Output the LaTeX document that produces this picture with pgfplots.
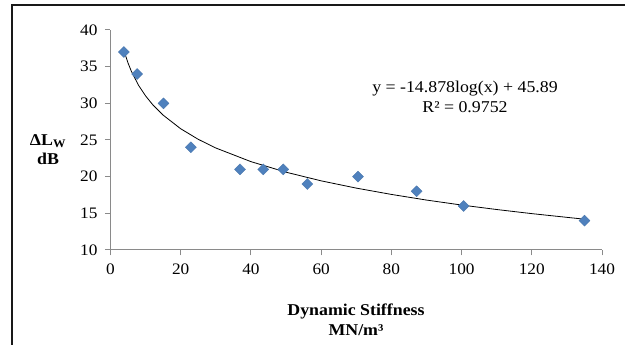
\documentclass[border=0pt]{standalone}
\usepackage{fontspec}
\setmainfont[FakeStretch=1.08]{Liberation Serif}
\usepackage{pgfplots}
\pgfplotsset{compat=1.18}
\definecolor{axisgray}{HTML}{8A8A8A}
\definecolor{serblue}{HTML}{4F81BD}
\begin{document}
\begin{tikzpicture}[x=1pt,y=1pt]
\useasboundingbox (0,0) rectangle (625,345);
\draw[line width=2pt,color=black!90] (12,0) -- (12,340) -- (625,340);
\begin{axis}[
  at={(110.5pt,95pt)}, anchor=south west,
  scale only axis, width=491.5pt, height=220pt,
  xmin=0, xmax=140, ymin=10, ymax=40,
  xtick={0,20,...,140}, ytick={10,15,...,40},
  axis x line*=bottom, axis y line*=left,
  axis line style={draw=axisgray, line width=1pt, -},
  tick style={draw=axisgray, line width=1pt},
  tick align=outside, major tick length=5.5pt,
  /pgf/number format/assume math mode=true,
  ticklabel style={font=\fontsize{16}{19}\selectfont, text=black},
  xticklabel style={yshift=-5pt},
  yticklabel style={xshift=-4pt},
  clip=false,
]
\addplot[black, line width=0.8pt, no marks] coordinates {
(4,36.93) (5,35.49) (6,34.31) (8,32.45) (10,31.01) (12,29.83) (15,28.39)
(20,26.53) (25,25.09) (30,23.91) (40,22.05) (50,20.61) (60,19.43)
(70,18.44) (80,17.58) (90,16.81) (100,16.13) (110,15.52) (120,14.96) (135,14.20)
};
\addplot[only marks, mark=square*, mark size=3.9pt,
  mark options={rotate=45, fill=serblue, draw=serblue!90!black, line width=0.3pt}]
  coordinates {
(3.8,37) (7.6,34) (15.1,30) (22.9,24) (36.9,21) (43.5,21) (49.2,21)
(56.1,19) (70.5,20) (87.2,18) (100.6,16) (135,14)
};
\end{axis}
\node[align=center, font=\fontsize{16.5}{19}\selectfont\bfseries] at (48,195.5) {ΔL\textsubscript{W}\\dB};
\node[align=center, font=\fontsize{16.5}{20}\selectfont\bfseries] at (356,25) {Dynamic Stiffness\\MN/m³};
\node[align=center, font=\fontsize{16.5}{20}\selectfont] at (465,248) {y = -14.878log(x) + 45.89\\R² = 0.9752};
\end{tikzpicture}
\end{document}
